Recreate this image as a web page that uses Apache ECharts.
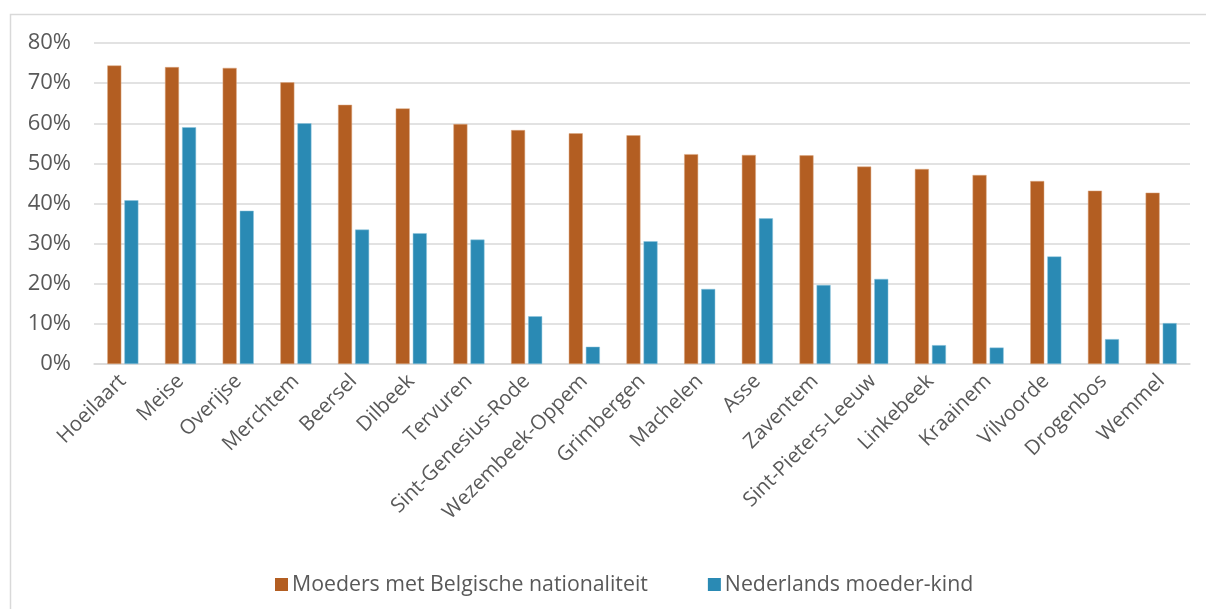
<!DOCTYPE html>
<html>
<head>
<meta charset="utf-8">
<script src="https://cdn.jsdelivr.net/npm/echarts@6/dist/echarts.min.js"></script>
<style>
  html, body { margin: 0; padding: 0; background: #fff; }
  #chart { width: 1206px; height: 609px; }
</style>
</head>
<body>
<div id="chart"></div>
<script>
// gemeenten, gesorteerd op aandeel moeders met Belgische nationaliteit
const gemeenten = ['Hoeilaart', 'Meise', 'Overijse', 'Merchtem', 'Beersel', 'Dilbeek', 'Tervuren',
  'Sint-Genesius-Rode', 'Wezembeek-Oppem', 'Grimbergen', 'Machelen', 'Asse', 'Zaventem',
  'Sint-Pieters-Leeuw', 'Linkebeek', 'Kraainem', 'Vilvoorde', 'Drogenbos', 'Wemmel']
const belgischeNat = [74.4, 74.0, 73.8, 70.2, 64.6, 63.7, 59.8, 58.3, 57.5, 57.0, 52.3, 52.1, 52.0,
  49.2, 48.6, 47.1, 45.6, 43.2, 42.7]
const nederlandsMK = [40.8, 59.0, 38.2, 60.0, 33.5, 32.6, 31.0, 11.9, 4.3, 30.6, 18.7, 36.3, 19.7,
  21.2, 4.7, 4.1, 26.8, 6.2, 10.2]
const seriesNames = ['Moeders met Belgische nationaliteit', 'Nederlands moeder-kind']

const FONT = '"Open Sans", sans-serif'
const TXT = '#595959'

const chart = echarts.init(document.getElementById('chart'))
chart.setOption({
  animation: false,
  textStyle: { fontFamily: FONT },
  graphic: [
    {
      type: 'rect',
      shape: { x: 10.5, y: 14.5, width: 1300, height: 700 },
      style: { fill: 'none', stroke: '#d9d9d9', lineWidth: 1.5 },
      silent: true
    }
  ],
  grid: { left: 94, right: 16, top: 43, bottom: 245 },
  legend: {
    data: seriesNames,
    left: 270,
    top: 569,
    itemWidth: 13,
    itemHeight: 13,
    itemGap: 60,
    icon: 'rect',
    itemStyle: { borderWidth: 0 },
    textStyle: { color: TXT, fontSize: 21.3, fontFamily: FONT, padding: [0, 0, 0, -1] }
  },
  xAxis: {
    type: 'category',
    data: gemeenten,
    axisLine: { lineStyle: { color: '#d9d9d9', width: 1.5 } },
    axisTick: { show: false },
    axisLabel: { rotate: 45, color: TXT, fontSize: 20.5, margin: 14, interval: 0 }
  },
  yAxis: {
    type: 'value',
    min: 0,
    max: 80,
    interval: 10,
    axisLine: { show: false },
    axisTick: { show: false },
    splitLine: { lineStyle: { color: '#d9d9d9', width: 1.5 } },
    axisLabel: { color: TXT, fontSize: 22, margin: 23, formatter: '{value}%' }
  },
  series: [
    {
      name: seriesNames[0],
      type: 'bar',
      data: belgischeNat,
      barWidth: 14,
      barGap: '22%',
      itemStyle: { color: '#B35E22', borderColor: '#dca882', borderWidth: 0.5 }
    },
    {
      name: seriesNames[1],
      type: 'bar',
      data: nederlandsMK,
      barWidth: 14,
      itemStyle: { color: '#2A8AB4', borderColor: '#8cc4dc', borderWidth: 0.5 }
    }
  ]
})
</script>
</body>
</html>
